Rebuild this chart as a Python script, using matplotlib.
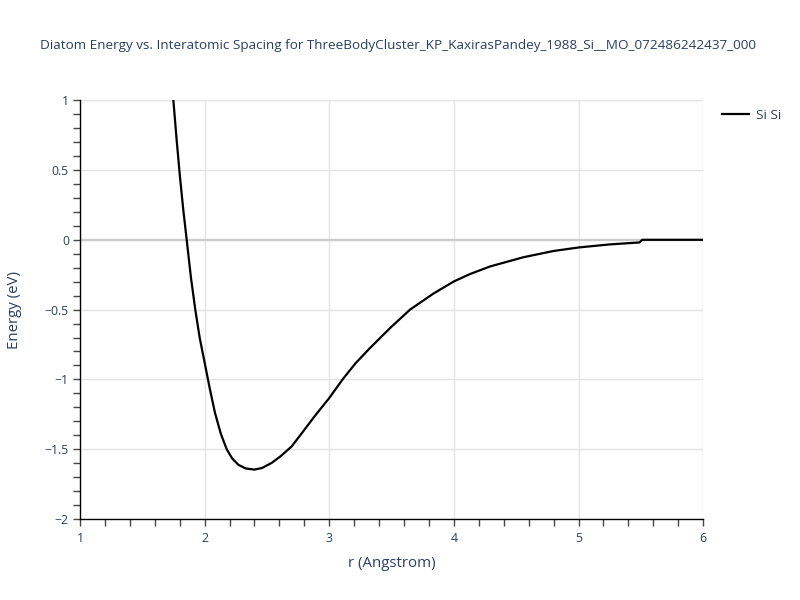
import matplotlib
matplotlib.use("Agg")
import matplotlib.pyplot as plt
from matplotlib.ticker import MultipleLocator

plt.rcParams['font.family'] = ['Open Sans', 'DejaVu Sans']

# Si-Si diatom energy curve
r_angstrom = [1.749, 1.775, 1.800, 1.828, 1.856, 1.890, 1.925, 1.960, 2.000, 2.040,
              2.083, 2.130, 2.177, 2.220, 2.271, 2.330, 2.399, 2.460, 2.538, 2.610,
              2.698, 2.767, 2.886, 3.000, 3.107, 3.210, 3.327, 3.488, 3.648, 3.836,
              4.000, 4.130, 4.290, 4.557, 4.800, 5.000, 5.250, 5.490, 5.510, 6.000]
energy_ev = [1.0, 0.72, 0.47, 0.22, 0.0, -0.27, -0.5, -0.70, -0.88, -1.06,
             -1.24, -1.39, -1.50, -1.565, -1.612, -1.638, -1.646, -1.635, -1.598, -1.55,
             -1.48, -1.40, -1.26, -1.133, -1.00, -0.885, -0.775, -0.632, -0.50, -0.385,
             -0.298, -0.245, -0.191, -0.125, -0.08, -0.055, -0.033, -0.019, 0.0, 0.0]
series_name = "Si Si"
title = "Diatom Energy vs. Interatomic Spacing for ThreeBodyCluster_KP_KaxirasPandey_1988_Si__MO_072486242437_000"

text_col = "#2a3f5f"

fig = plt.figure(figsize=(8, 6), dpi=100)
ax = fig.add_axes([0.1, 0.135, 0.779, 0.698])

ax.plot(r_angstrom, energy_ev, color="black", lw=1.6, label=series_name, zorder=3)

ax.set_xlim(1, 6)
ax.set_ylim(-2, 1)
ax.xaxis.set_major_locator(MultipleLocator(1))
ax.xaxis.set_minor_locator(MultipleLocator(0.2))
ax.yaxis.set_major_locator(MultipleLocator(0.5))
ax.yaxis.set_minor_locator(MultipleLocator(0.1))

ax.grid(True, which="major", color="#e4e4e4", lw=1)
ax.axhline(0, color="#cccccc", lw=1.6, zorder=1)
ax.set_axisbelow(True)

for s in ["top", "right"]:
    ax.spines[s].set_visible(False)
for s in ["left", "bottom"]:
    ax.spines[s].set_color("black")
    ax.spines[s].set_linewidth(1)

ax.tick_params(which="both", direction="out", length=5, width=1, color="#444444",
               labelsize=8.8, labelcolor=text_col)
ax.tick_params(axis="x", pad=4)
ax.tick_params(axis="y", pad=3)

# unicode minus like the reference
ax.yaxis.set_major_formatter(plt.FuncFormatter(lambda v, p: f"{v:g}".replace("-", "\u2212")))

ax.set_xlabel("r (Angstrom)", fontsize=10.8, color=text_col, labelpad=8)
ax.set_ylabel("Energy (eV)", fontsize=10.8, color=text_col, labelpad=16)

fig.text(0.05, 0.925, title, fontsize=9.7, color=text_col, ha="left", va="center")

ax.legend(loc="upper left", bbox_to_anchor=(1.011, 1.008), frameon=False,
          fontsize=9.7, labelcolor=text_col, handlelength=2.0, handletextpad=0.5)

fig.savefig("out.png", dpi=100)
